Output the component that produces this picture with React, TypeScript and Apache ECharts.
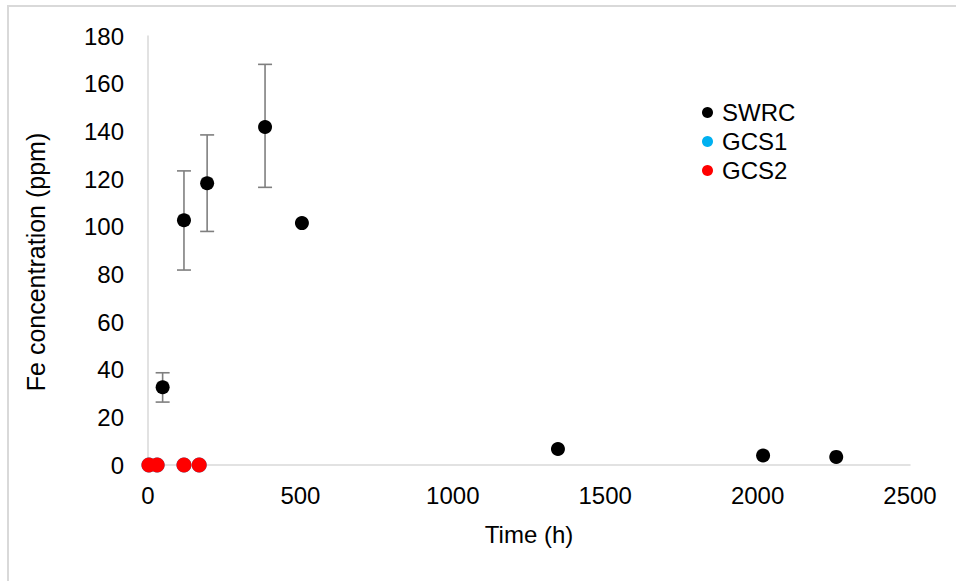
import React, { useEffect, useRef } from "react";
import * as echarts from "echarts";

const swrcTime = [48, 118, 194, 384, 505, 1345, 2018, 2258];
const swrcFe = [32.6, 102.7, 118.2, 141.8, 101.5, 6.7, 4.0, 3.4];
const swrcErrLow = [26.4, 81.8, 98.0, 116.5, null, null, null, null];
const swrcErrHigh = [38.7, 123.4, 138.5, 168.1, null, null, null, null];

const gcs1Time = [3, 30, 118, 168];
const gcs1Fe = [0, 0, 0, 0];
const gcs2Time = [3, 30, 118, 168];
const gcs2Fe = [0, 0, 0, 0];

const xTicks = { min: 0, max: 2500, interval: 500 };
const yTicks = { min: 0, max: 180, interval: 20 };

const yTitle = "Fe concentration (ppm)";
const xTitle = "Time (h)";

const FONT = "'Liberation Sans', Arial, sans-serif";

export default function App() {
  const ref = useRef<HTMLDivElement>(null);
  useEffect(() => {
    const chart = echarts.init(ref.current!, null, { renderer: "svg" });
    const errData = swrcTime
      .map((t, i) => [t, swrcErrLow[i], swrcErrHigh[i]])
      .filter((d) => d[1] != null);
    chart.setOption({
      animation: false,
      backgroundColor: "#ffffff",
      textStyle: { fontFamily: FONT },
      grid: { left: 148, right: 46, top: 36, bottom: 116 },
      graphic: [
        {
          type: "rect",
          shape: { x: 8, y: 6, width: 1200, height: 1200 },
          style: { fill: "none", stroke: "#d9d9d9", lineWidth: 2 },
          silent: true,
          z: -10,
        },
        {
          type: "text",
          x: 36,
          y: 262,
          rotation: Math.PI / 2,
          style: {
            text: yTitle,
            fontSize: 25,
            fontFamily: FONT,
            fill: "#000",
            align: "center",
            verticalAlign: "middle",
          },
          silent: true,
        },
      ],
      legend: {
        orient: "vertical",
        left: 697,
        top: 95,
        icon: "circle",
        itemWidth: 11,
        itemHeight: 11,
        itemGap: 4,
        textStyle: { fontSize: 24, color: "#000", fontFamily: FONT, padding: [0, 0, 0, 4], lineHeight: 25 },
        data: ["SWRC", "GCS1", "GCS2"],
      },
      xAxis: {
        type: "value",
        min: xTicks.min,
        max: xTicks.max,
        interval: xTicks.interval,
        name: xTitle,
        nameLocation: "middle",
        nameGap: 57,
        nameTextStyle: { fontSize: 24, color: "#000", fontFamily: FONT },
        axisLine: { show: true, lineStyle: { color: "#d9d9d9", width: 1.5 } },
        axisTick: { show: false },
        splitLine: { show: false },
        axisLabel: {
          fontSize: 24,
          color: "#000",
          margin: 18,
          fontFamily: FONT,
          formatter: (v: number) => String(v),
        },
      },
      yAxis: {
        type: "value",
        min: yTicks.min,
        max: yTicks.max,
        interval: yTicks.interval,
        axisLine: { show: true, lineStyle: { color: "#d9d9d9", width: 1.5 } },
        axisTick: { show: false },
        splitLine: { show: false },
        axisLabel: { fontSize: 24, color: "#000", margin: 24, fontFamily: FONT },
      },
      series: [
        {
          type: "custom",
          name: "err",
          data: errData,
          z: 1,
          renderItem: (params: any, api: any) => {
            const x = api.value(0);
            const lo = api.coord([x, api.value(1)]);
            const hi = api.coord([x, api.value(2)]);
            const hw = 7;
            const style = { stroke: "#7f7f7f", lineWidth: 1.6 };
            return {
              type: "group",
              children: [
                { type: "line", shape: { x1: lo[0], y1: lo[1], x2: hi[0], y2: hi[1] }, style },
                { type: "line", shape: { x1: lo[0] - hw, y1: lo[1], x2: lo[0] + hw, y2: lo[1] }, style },
                { type: "line", shape: { x1: hi[0] - hw, y1: hi[1], x2: hi[0] + hw, y2: hi[1] }, style },
              ],
            };
          },
        },
        {
          type: "scatter",
          name: "SWRC",
          data: swrcTime.map((t, i) => [t, swrcFe[i]]),
          symbolSize: 14,
          itemStyle: { color: "#000000", opacity: 1 },
          z: 3,
        },
        {
          type: "scatter",
          name: "GCS1",
          data: gcs1Time.map((t, i) => [t, gcs1Fe[i]]),
          symbolSize: 15,
          itemStyle: { color: "#00b0f0", opacity: 1 },
          z: 3,
        },
        {
          type: "scatter",
          name: "GCS2",
          data: gcs2Time.map((t, i) => [t, gcs2Fe[i]]),
          symbolSize: 15,
          itemStyle: { color: "#ff0000", opacity: 1 },
          z: 4,
        },
      ],
    });
    return () => chart.dispose();
  }, []);
  return (
    <div
      ref={ref}
      style={{ position: "fixed", left: 0, top: 0, width: 956, height: 581, background: "#fff" }}
    />
  );
}
